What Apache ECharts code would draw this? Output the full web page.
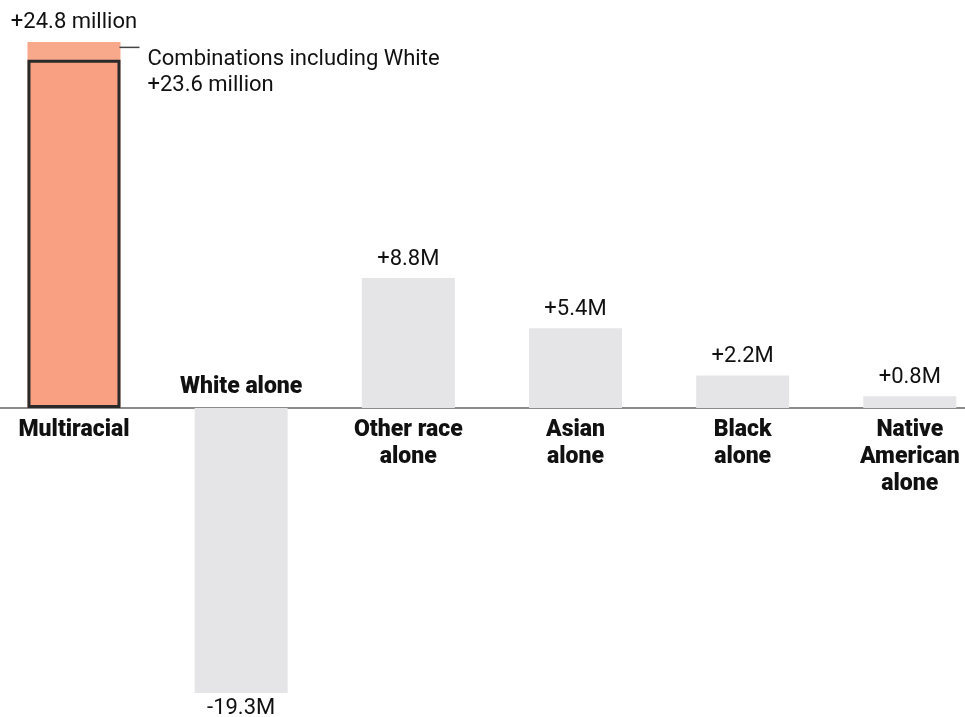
<!DOCTYPE html>
<html>
<head>
<meta charset="utf-8">
<script src="https://cdn.jsdelivr.net/npm/echarts@6/dist/echarts.min.js"></script>
<style>
  html, body { margin: 0; padding: 0; background: #fff; }
  #chart { width: 965px; height: 717px; }
</style>
</head>
<body>
<div id="chart"></div>
<script>
// categories and values (millions, change 2010 -> 2020)
const categories = ["Multiracial", "White alone", "Other race\nalone", "Asian\nalone", "Black\nalone", "Native\nAmerican\nalone"];
const totalChange = [24.8, -19.3, 8.8, 5.4, 2.2, 0.8];
const valueLabels = ["+24.8 million", "-19.3M", "+8.8M", "+5.4M", "+2.2M", "+0.8M"];
const combosWithWhite = [23.6, null, null, null, null, null];
const combosLabel = ["Combinations including White", "+23.6 million"];

const SALMON = "#f8a98b";
const SALMON_DARK = "#f9a083";
const GREY = "#e5e5e8";
const FONT = "Roboto, 'Liberation Sans', sans-serif";

const chart = echarts.init(document.getElementById("chart"));

// grid bottom sits on the zero line; the negative bar is drawn past it (clip off)
const options = {
  animation: false,
  textStyle: { fontFamily: FONT, color: "#111" },
  grid: { left: -9.6, width: 1003, top: 24.2, height: 383.8, containLabel: false, outerBoundsMode: "none" },
  xAxis: {
    type: "category",
    data: categories,
    axisTick: { show: false },
    axisLine: { onZero: false, lineStyle: { color: "#8a8a8a", width: 2 } },
    axisLabel: {
      interval: 0,
      margin: 9,
      fontSize: 23,
      fontWeight: 900,
      lineHeight: 27,
      color: "#111",
      fontFamily: FONT,
      // White alone label sits above the axis (drawn by helper series)
      formatter: (v) => (v === "White alone" ? "" : v),
    },
  },
  yAxis: {
    type: "value",
    min: 0,
    max: 26,
    show: false,
    splitLine: { show: false },
  },
  series: [
    {
      name: "Total change",
      type: "bar",
      clip: false,
      barWidth: 93,
      barGap: "-100%",
      data: totalChange.map((v, i) => ({
        value: v,
        itemStyle: { color: i === 0 ? SALMON : GREY },
      })),
      label: {
        show: true,
        position: "top",
        distance: 8,
        fontSize: 22,
        color: "#111",
        fontFamily: FONT,
        formatter: (p) => valueLabels[p.dataIndex],
      },
      z: 2,
    },
    {
      name: "Combinations including White",
      type: "bar",
      clip: false,
      barWidth: 93,
      barGap: "-100%",
      data: combosWithWhite,
      itemStyle: { color: SALMON_DARK, borderColor: "#2a2a2a", borderWidth: 3 },
      label: {
        show: true,
        position: [92, -13],
        fontFamily: FONT,
        formatter: () =>
          "{ln|}{t|" + combosLabel[0] + "}\n{sp|}{t|" + combosLabel[1] + "}",
        rich: {
          ln: { width: 20, height: 1.5, backgroundColor: "#444", verticalAlign: "top" },
          sp: { width: 20, height: 1 },
          t: { fontSize: 22, lineHeight: 26, color: "#111", padding: [0, 0, 0, 8], fontFamily: FONT },
        },
      },
      z: 3,
    },
    {
      name: "White alone label",
      type: "bar",
      clip: false,
      barWidth: 93,
      barGap: "-100%",
      data: [null, 0, null, null, null, null],
      itemStyle: { color: "transparent" },
      label: {
        show: true,
        position: "top",
        distance: 9,
        fontSize: 23,
        fontWeight: 900,
        color: "#111",
        fontFamily: FONT,
        formatter: (p) => categories[p.dataIndex],
      },
      z: 4,
    },
  ],
};

// negative bar label goes below the bar
options.series[0].data[1].label = { position: "bottom", distance: 5 };

chart.setOption(options);
</script>
</body>
</html>
